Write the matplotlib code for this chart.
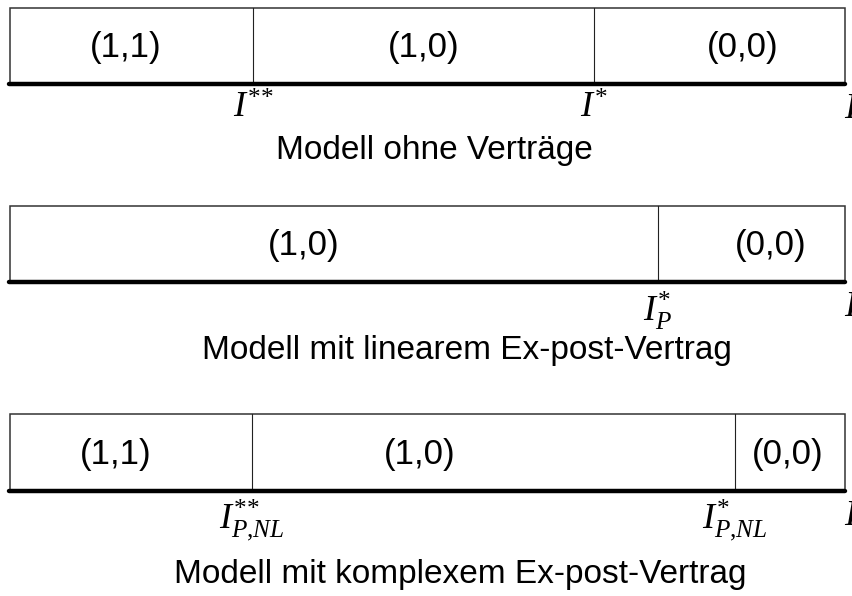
import matplotlib
matplotlib.use("Agg")
import matplotlib.pyplot as plt

plt.rcParams['font.family'] = ['Liberation Sans', 'DejaVu Sans']
plt.rcParams['mathtext.fontset'] = 'custom'
plt.rcParams['mathtext.rm'] = 'Liberation Serif'
plt.rcParams['mathtext.it'] = 'Liberation Serif:italic'
plt.rcParams['mathtext.bf'] = 'Liberation Serif:bold'

# ---- data -------------------------------------------------------------
titles = ["Modell ohne Verträge",
          "Modell mit linearem Ex-post-Vertrag",
          "Modell mit komplexem Ex-post-Vertrag"]
# thresholds on a 0..100 scale of the investment axis
thresholds_1 = [29.1, 69.9]
thresholds_2 = [77.6]
thresholds_3 = [29.0, 86.8]
threshold_labels_1 = [r"$I^{{*}{*}}$", r"$I^{*}$"]
threshold_labels_2 = [r"$I^{*}_{P}$"]
threshold_labels_3 = [r"$I^{{*}{*}}_{P{,}NL}$", r"$I^{*}_{P{,}NL}$"]
regions_1 = ["(1,1)", "(1,0)", "(0,0)"]
regions_2 = ["(1,0)", "(0,0)"]
regions_3 = ["(1,1)", "(1,0)", "(0,0)"]
# where each region label sits on the same 0..100 scale
region_pos_1 = [13.8, 49.6, 87.7]
region_pos_2 = [35.2, 91.1]
region_pos_3 = [12.6, 49.1, 93.1]
axis_label = r"$I$"

rows = [
    (titles[0], thresholds_1, threshold_labels_1, regions_1, region_pos_1),
    (titles[1], thresholds_2, threshold_labels_2, regions_2, region_pos_2),
    (titles[2], thresholds_3, threshold_labels_3, regions_3, region_pos_3),
]

# ---- layout (pixels, y downward) --------------------------------------
row_top = [8, 206, 414]
row_bottom = [84, 282, 491]
title_y = [150, 350, 575]
title_x = [50.8, 54.7, 53.9]

fig = plt.figure(figsize=(8.53, 5.96), dpi=100)
ax = fig.add_axes([10 / 853, 0, 835 / 853, 1])
ax.set_xlim(0, 100)
ax.set_ylim(596, 0)
ax.axis('off')

for i, (title, ths, thl, regs, rpos) in enumerate(rows):
    top, bot = row_top[i], row_bottom[i]
    # box outline
    ax.plot([0, 0, 100, 100], [bot, top, top, bot], color='#333333', lw=1.1,
            solid_joinstyle='miter', clip_on=False)
    # dividers
    for t in ths:
        ax.plot([t, t], [top, bot], color='#222222', lw=0.8, clip_on=False)
    # thick baseline
    ax.plot([-0.1, 100], [bot, bot], color='black', lw=3.2,
            solid_capstyle='round', clip_on=False)
    # region labels
    for r, xp in zip(regs, rpos):
        ax.text(xp, (top + bot) / 2 + 2, r,
                ha='center', va='center', fontsize=25)
    # threshold labels
    for t, l in zip(ths, thl):
        ax.text(t, bot + 7, l, ha='center', va='top', fontsize=26)
    # truncated axis label at right edge
    ax.text(99.9, bot + 7, axis_label, ha='left', va='top', fontsize=26,
            clip_on=False)
    # title
    ax.text(title_x[i], title_y[i], title, ha='center', va='center', fontsize=24)

fig.savefig("out.png", dpi=100)
